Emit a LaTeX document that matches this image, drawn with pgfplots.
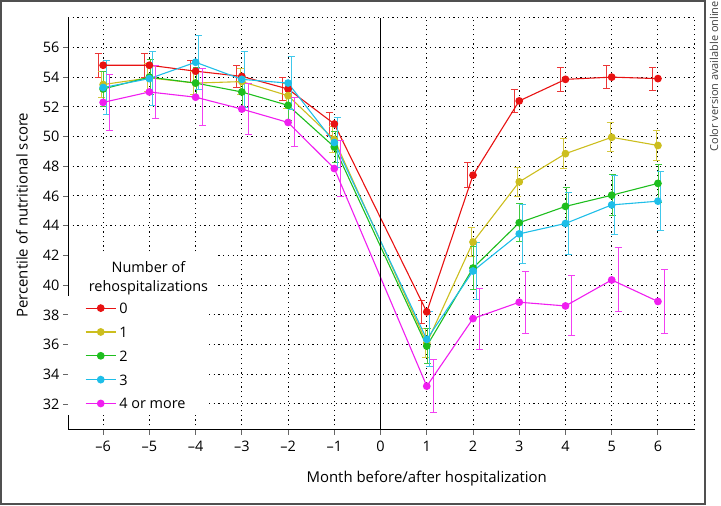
\documentclass[border=0pt]{standalone}
\usepackage{fontspec}
\setmainfont{Open Sans}
\usepackage{pgfplots}
\usepackage{pgfplotstable}
\pgfplotsset{compat=1.18}

\definecolor{cR}{RGB}{232,18,18}
\definecolor{cY}{RGB}{204,190,30}
\definecolor{cG}{RGB}{30,190,30}
\definecolor{cC}{RGB}{30,190,232}
\definecolor{cM}{RGB}{240,30,240}
\definecolor{frameg}{RGB}{80,80,80}

\pgfplotstableread{
x y e
-6 54.8 0.8
-5 54.8 0.8
-4 54.4 0.75
-3 54.05 0.75
-2 53.2 0.8
-1 50.85 0.8
1 38.2 0.75
2 47.4 0.85
3 52.4 0.8
4 53.85 0.8
5 54.0 0.76
6 53.9 0.77
}\datared
\pgfplotstableread{
x y e
-6 53.5 0.9
-5 53.95 0.95
-4 53.6 0.8
-3 53.7 0.85
-2 52.75 0.85
-1 49.8 0.9
1 36.1 0.95
2 42.9 1.0
3 46.95 1.0
4 48.85 1.0
5 49.95 0.97
6 49.4 1.0
}\datayel
\pgfplotstableread{
x y e
-6 53.2 1.2
-5 54.0 1.2
-4 53.6 1.05
-3 53.0 1.0
-2 52.1 1.0
-1 49.3 1.05
1 35.9 1.15
2 41.15 1.45
3 44.2 1.27
4 45.3 1.25
5 46.05 1.38
6 46.85 1.3
}\datagrn
\pgfplotstableread{
x y e
-6 53.3 1.8
-5 53.9 1.8
-4 55.0 1.8
-3 53.85 1.9
-2 53.6 1.8
-1 49.6 1.7
1 36.35 1.85
2 40.95 1.95
3 43.45 2.0
4 44.15 2.1
5 45.4 2.0
6 45.65 1.97
}\datacyn
\pgfplotstableread{
x y e
-6 52.3 1.87
-5 53.0 1.8
-4 52.65 1.9
-3 51.85 1.7
-2 50.95 1.65
-1 47.85 1.9
1 33.2 1.8
2 37.75 2.05
3 38.85 2.08
4 38.6 2.02
5 40.35 2.15
6 38.9 2.15
}\datamag

\pgfplotsset{
  ebar/.style={draw=none, mark=none, forget plot,
    error bars/.cd, y dir=both, y explicit,
    error bar style={draw=#1, solid, line width=1bp},
    error mark options={draw=#1, rotate=90, mark size=3.5bp, line width=1bp}},
  ser/.style={line width=1.1bp, mark=*, mark size=3.3bp, mark options={solid}},
}

\begin{document}
\begin{tikzpicture}
\useasboundingbox (0,0) rectangle (721bp,506bp);
\draw[frameg, line width=1.5bp] (1bp,2bp) rectangle (705bp,505bp);
\node[rotate=90, anchor=north east, inner sep=0pt, text=black!75,
  font=\fontsize{11}{13}\selectfont] at (709.5bp,505bp) {Color version available online};
\begin{axis}[
  at={(68bp,76bp)}, anchor=south west, scale only axis,
  width=626bp, height=412.3bp,
  xmin=-6.76, xmax=6.78, ymin=30.25, ymax=58,
  axis x line=bottom, axis y line=left,
  axis line style={-, black, line width=1bp},
  xtick={-6,...,6},
  xticklabels={–6,–5,–4,–3,–2,–1,0,1,2,3,4,5,6},
  ytick={32,34,...,56},
  tick align=outside, major tick length=5bp,
  tick style={black!60, line width=0.9bp},
  grid=major,
  major grid style={black, dash pattern=on 1.2bp off 3.5bp, line width=1bp},
  extra x ticks={6.78}, extra x tick labels={},
  extra x tick style={major tick length=0pt, grid=major},
  extra y ticks={58}, extra y tick labels={},
  extra y tick style={major tick length=0pt, grid=major},
  /pgf/number format/assume math mode=true,
  tick label style={font=\fontsize{14.5}{17}\selectfont},
  xticklabel style={yshift=-3bp},
  label style={font=\fontsize{15}{17}\selectfont},
  xlabel={Month before/after hospitalization},
  ylabel={Percentile of nutritional score},
  xlabel style={at={(axis description cs:0.573,-0.119)}, anchor=center},
  ylabel style={at={(axis description cs:-0.0735,0.521)}, anchor=center},
  legend cell align=left,
  legend image code/.code={\draw[mark repeat=2, mark phase=2, #1] plot coordinates {(0bp,0bp) (15bp,0bp) (30bp,0bp)};},
  legend style={at={(0,0.325)}, anchor=north west, draw=none, fill=white,
    inner xsep=17bp, inner ysep=2bp, row sep=4bp,
    nodes={inner sep=3bp},
    font=\fontsize{14.5}{17.7}\selectfont},
]
\addplot[ebar=cR!85] table[x expr=\thisrow{x}-0.11, y=y, y error=e]{\datared};
\addplot[cR, ser] table[x=x, y=y]{\datared};
\addlegendentry{\strut 0}
\addplot[ebar=cY!85] table[x expr=\thisrow{x}-0.035, y=y, y error=e]{\datayel};
\addplot[cY, ser] table[x=x, y=y]{\datayel};
\addlegendentry{\strut 1}
\addplot[ebar=cG!85] table[x expr=\thisrow{x}+0.015, y=y, y error=e]{\datagrn};
\addplot[cG, ser] table[x=x, y=y]{\datagrn};
\addlegendentry{\strut 2}
\addplot[ebar=cC!85] table[x expr=\thisrow{x}+0.065, y=y, y error=e]{\datacyn};
\addplot[cC, ser] table[x=x, y=y]{\datacyn};
\addlegendentry{\strut 3}
\addplot[ebar=cM!85] table[x expr=\thisrow{x}+0.14, y=y, y error=e]{\datamag};
\addplot[cM, ser] table[x=x, y=y]{\datamag};
\addlegendentry{\strut 4 or more}

\draw[black, line width=1bp] (axis cs:0,30.25) -- (axis cs:0,58);
\fill[white] (rel axis cs:0.002,0.4317) rectangle (rel axis cs:0.236,0.32);
\node[align=center, inner sep=0pt, font=\fontsize{14.5}{19.5}\selectfont]
  at (axis cs:-5.02,40.46) {Number of\\rehospitalizations};
\end{axis}
\end{tikzpicture}
\end{document}
